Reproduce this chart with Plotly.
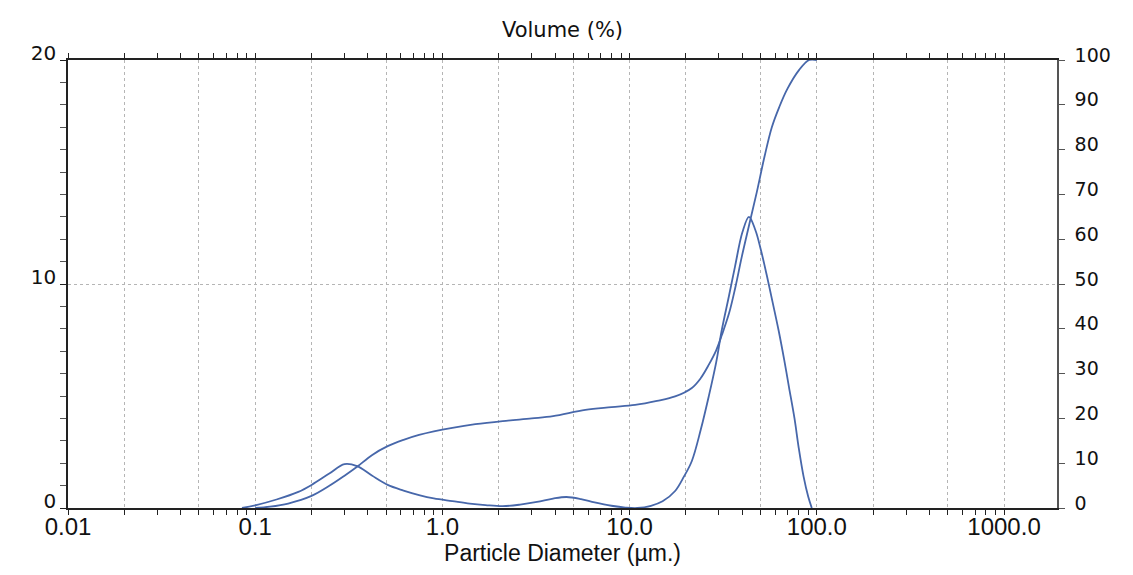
import plotly.graph_objects as go

# Particle diameter (µm) and frequency volume (%) – left axis
freq_x = [0.085, 0.1, 0.13, 0.17, 0.2, 0.25, 0.3, 0.35, 0.42, 0.51, 0.62, 0.75, 0.9, 1.13,
          1.4, 1.7, 2.1, 2.6, 3.2, 3.9, 4.6, 5.5, 6.5, 8.0, 9.5, 11.0, 13.0, 15.0, 17.5,
          19.5, 21.5, 24.0, 26.5, 29.0, 31.0, 34.0, 36.6, 40.0, 43.4, 47.0, 50.0, 54.0,
          58.0, 62.6, 67.0, 71.0, 76.0, 80.0, 85.0, 90.0, 94.0]
freq_y = [0.0, 0.12, 0.38, 0.72, 1.03, 1.55, 1.96, 1.87, 1.45, 1.03, 0.78, 0.58, 0.43, 0.31,
          0.2, 0.13, 0.08, 0.15, 0.27, 0.42, 0.49, 0.4, 0.25, 0.1, 0.02, 0.0, 0.1, 0.3, 0.76,
          1.4, 2.1, 3.5, 5.0, 6.5, 7.9, 9.5, 10.8, 12.3, 13.0, 12.4, 11.6, 10.4,
          9.2, 7.9, 6.6, 5.4, 4.0, 2.7, 1.4, 0.5, 0.0]

# Cumulative volume (%) – right axis
cum_x = [0.1, 0.12, 0.15, 0.2, 0.25, 0.3, 0.35, 0.42, 0.51, 0.62, 0.75, 0.9, 1.13, 1.5,
         2.1, 3.0, 3.9, 5.8, 8.0, 10.7, 14.0, 17.5, 21.5, 24.0, 26.5, 29.0, 31.1, 34.0,
         36.6, 39.7, 43.4, 47.8, 52.6, 57.5, 63.0, 69.5, 80.5, 91.0, 100.0]
cum_y = [0.0, 0.3, 1.0, 2.7, 5.0, 7.2, 9.2, 11.8, 13.8, 15.2, 16.3, 17.1, 17.9, 18.7,
         19.4, 20.0, 20.5, 21.9, 22.5, 23.0, 23.9, 24.9, 26.8, 29.0, 32.0, 35.2, 38.6, 43.5,
         49.0, 56.0, 63.0, 70.5, 78.5, 85.0, 89.5, 93.5, 97.8, 100.0, 100.0]

# Axis ticks
x_grid_vals = [0.01, 0.02, 0.05, 0.1, 0.2, 0.5, 1, 2, 5, 10, 20, 50, 100, 200, 500, 1000]
x_grid_text = ["0.01", "", "", "0.1", "", "", "1.0", "", "", "10.0", "", "", "100.0", "", "", "1000.0"]
x_minor_vals = [m * 10 ** e for e in range(-2, 4) for m in (3, 4, 6, 7, 8, 9)]
left_vals = [0, 10, 20]
right_vals = list(range(0, 101, 10))

LINE = "#4767aa"
AX = "#222222"
GRID = "#b5b5b5"

fig = go.Figure()
fig.add_trace(go.Scatter(x=freq_x, y=freq_y, mode="lines", line=dict(color=LINE, width=1.8),
                         line_shape="spline", showlegend=False, yaxis="y"))
fig.add_trace(go.Scatter(x=cum_x, y=cum_y, mode="lines", line=dict(color=LINE, width=1.8),
                         line_shape="spline", showlegend=False, yaxis="y2"))

fig.update_layout(
    width=1133, height=575,
    margin=dict(l=60, r=84, t=52, b=75),
    paper_bgcolor="white", plot_bgcolor="white",
    font=dict(family="Liberation Sans, Arial, sans-serif", color="#111111"),
    title=dict(text="Volume (%)", x=0.5, xref="paper", y=0.962, yref="container",
               xanchor="center", yanchor="middle",
               font=dict(size=21, family="DejaVu Sans, sans-serif", color="#111111")),
    xaxis=dict(
        type="log", range=[-2, 3.283],
        tickvals=x_grid_vals, ticktext=x_grid_text,
        tickfont=dict(size=24), ticks="outside", ticklen=5, tickcolor=AX,
        ticklabelstandoff=-9,
        showgrid=True, gridcolor=GRID, griddash="dot", gridwidth=1,
        showline=True, linecolor=AX, linewidth=1.5, mirror="allticks",
        minor=dict(tickvals=x_minor_vals, ticks="outside", ticklen=5, tickcolor=AX, showgrid=False),
        title=dict(text="Particle Diameter (µm.)", font=dict(size=23), standoff=0),
        automargin=False, zeroline=False,
    ),
    yaxis=dict(
        range=[0, 20], tickvals=left_vals, tickfont=dict(size=20, family="DejaVu Sans, sans-serif"),
        ticks="outside", ticklen=6, tickcolor=AX, ticklabelshift=-7,
        showgrid=True, gridcolor=GRID, griddash="dot",
        showline=True, linecolor=AX, linewidth=1.5,
        minor=dict(dtick=1, ticks="outside", ticklen=6, tickcolor="#555555", showgrid=False),
        zeroline=False, automargin=False,
    ),
    yaxis2=dict(
        range=[0, 100], overlaying="y", side="right", tickvals=right_vals,
        tickfont=dict(size=19, family="DejaVu Sans, sans-serif"),
        ticks="outside", ticklen=6, tickcolor="#555555", ticklabelstandoff=6, ticklabelshift=-5,
        showgrid=False, showline=True, linecolor="#555555", linewidth=1.5,
        zeroline=False, automargin=False,
    ),
)

fig.write_html("out.html")
